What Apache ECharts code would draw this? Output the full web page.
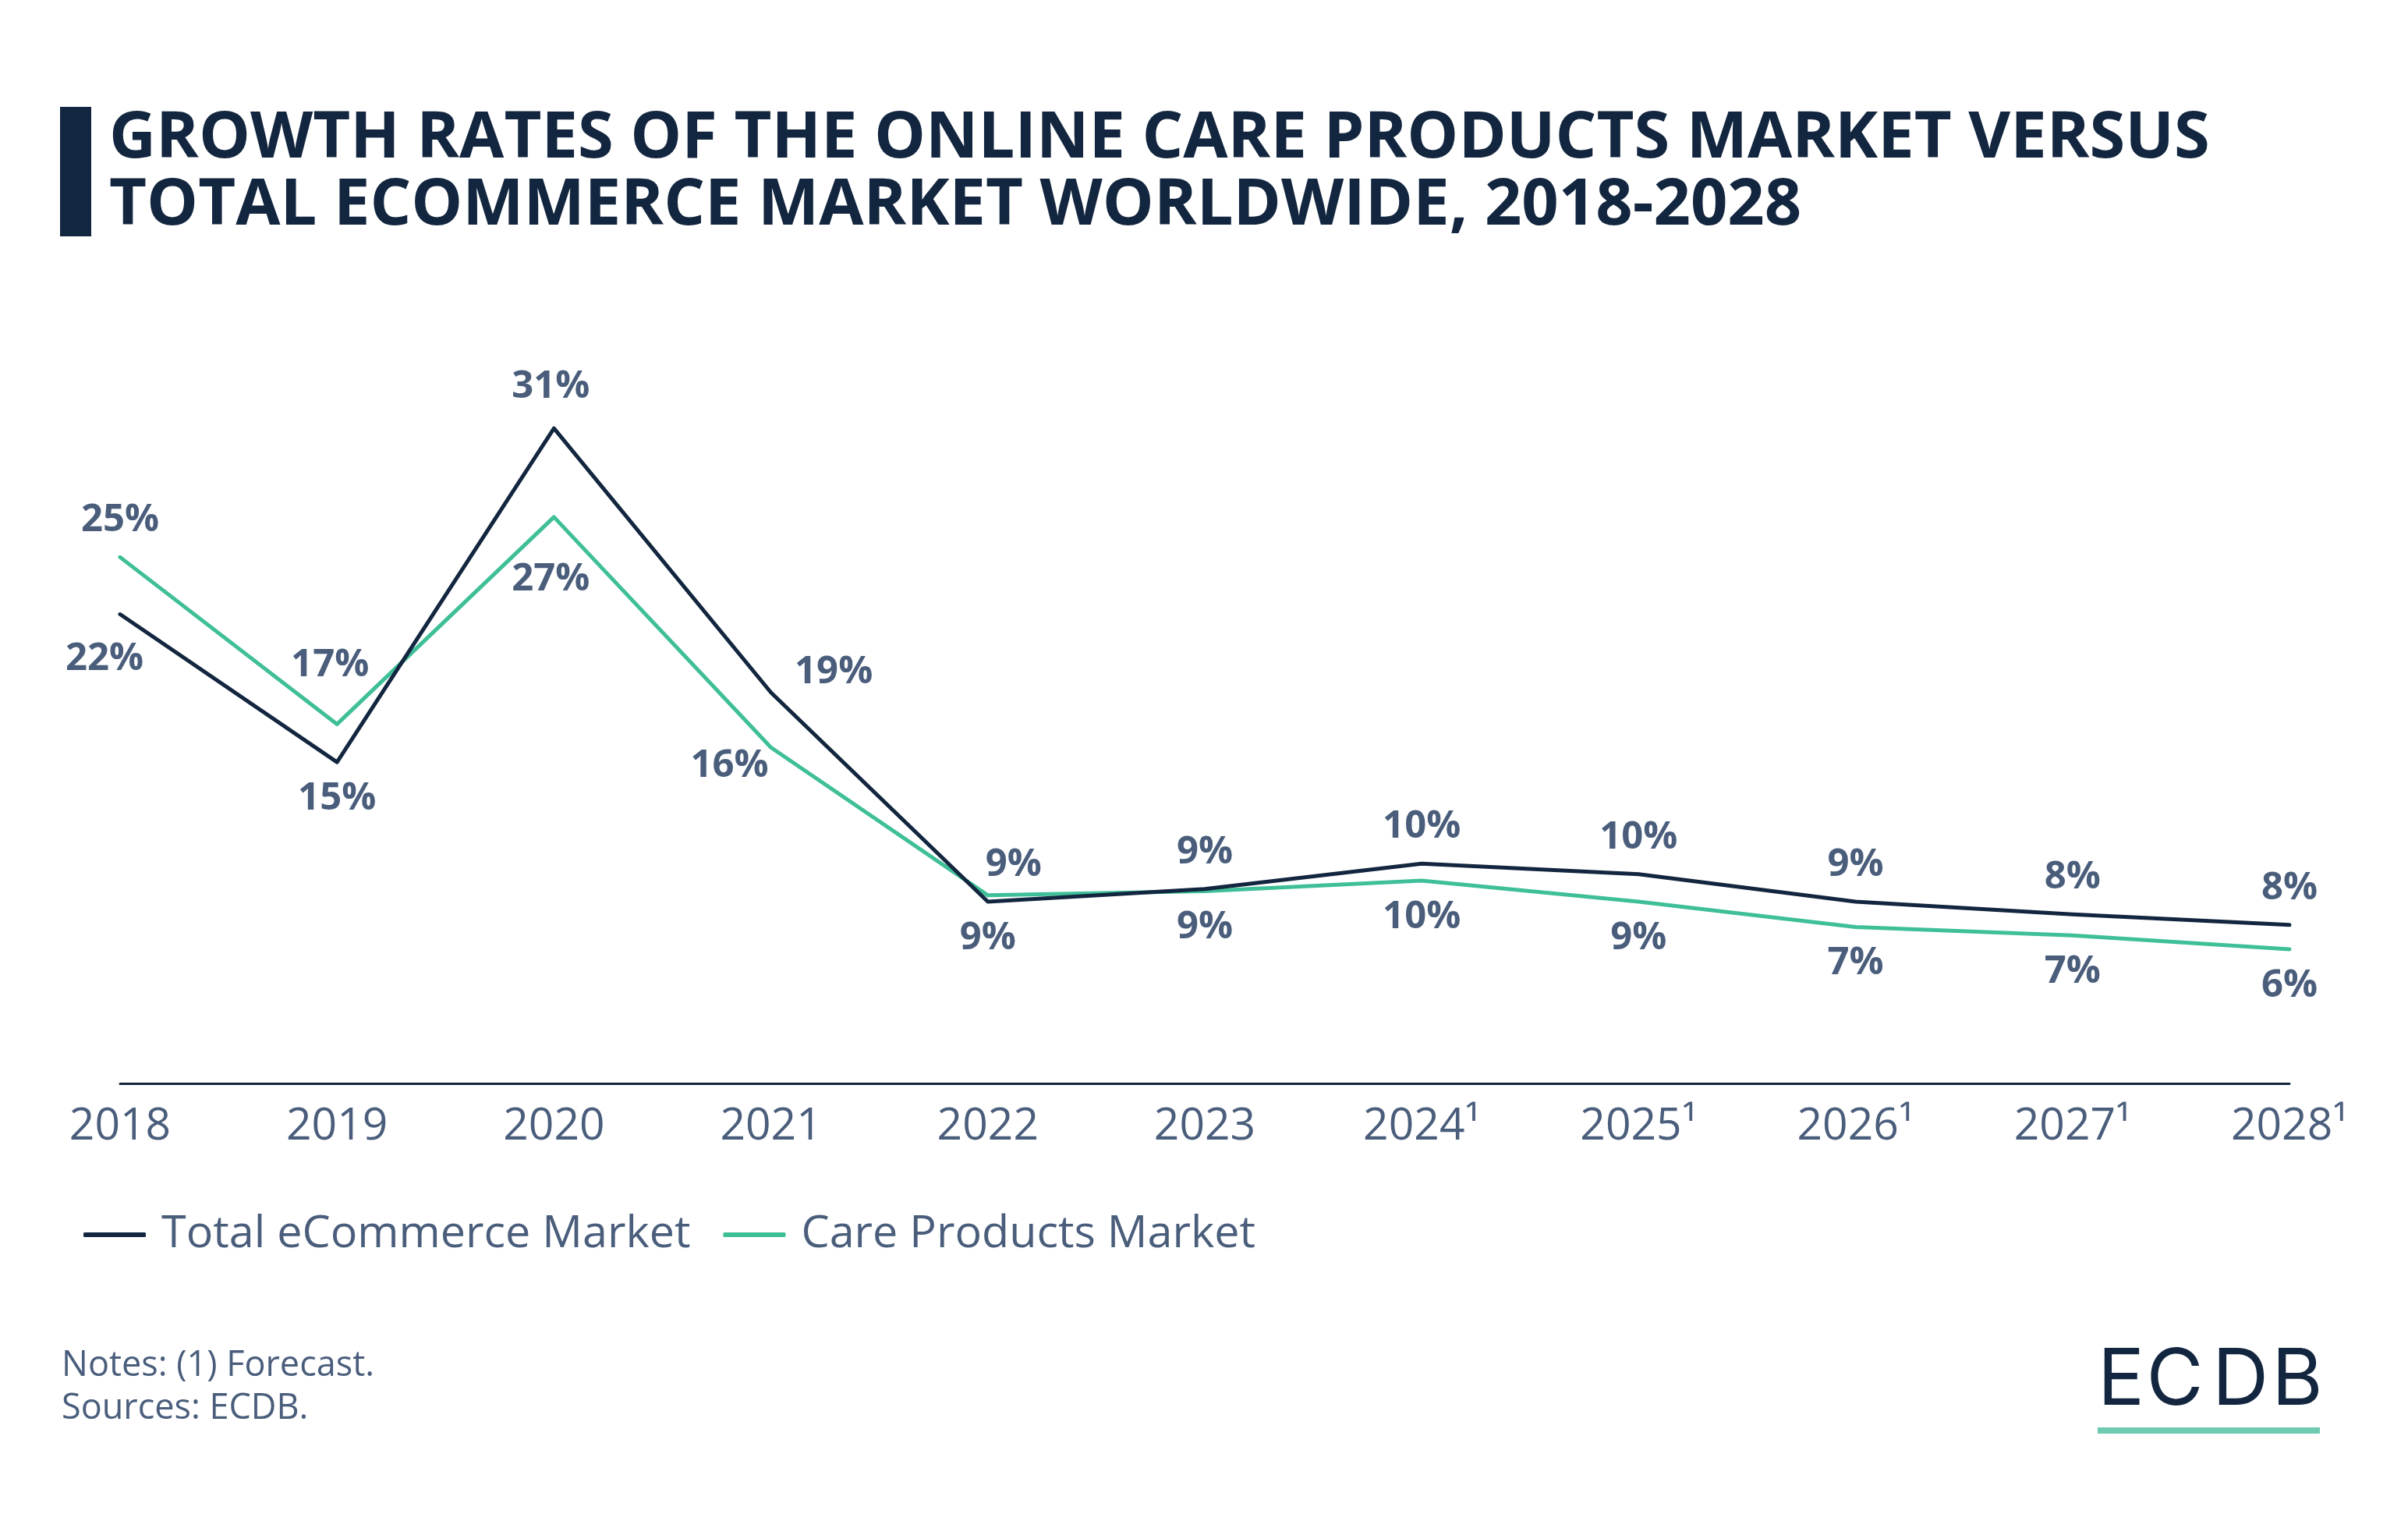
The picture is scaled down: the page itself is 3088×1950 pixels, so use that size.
<!DOCTYPE html>
<html>
<head>
<meta charset="utf-8">
<script src="https://cdn.jsdelivr.net/npm/echarts@6/dist/echarts.min.js"></script>
<style>
html,body{margin:0;padding:0;background:#fff;}
#chart{width:3088px;height:1950px;}
</style>
</head>
<body>
<div id="chart"></div>
<script>
// ---- data ----
const categories = ['2018','2019','2020','2021','2022','2023','2024¹','2025¹','2026¹','2027¹','2028¹'];
const totalEcommerce = [22.2, 15.2, 31.0, 18.5, 8.6, 9.2, 10.4, 9.9, 8.6, 8.0, 7.5];
const careProducts   = [24.9, 17.0, 26.8, 15.9, 8.9, 9.1, 9.6, 8.6, 7.4, 7.0, 6.35];
const seriesNames = ['Total eCommerce Market', 'Care Products Market'];
const titleLines = ['GROWTH RATES OF THE ONLINE CARE PRODUCTS MARKET VERSUS', 'TOTAL ECOMMERCE MARKET WORLDWIDE, 2018-2028'];
const notes = ['Notes: (1) Forecast.', 'Sources: ECDB.'];

// ---- label placement (style only) ----
const totalLabelPos = ['bottom','bottom','top','right','bottom','top','top','top','top','top','top'];
const totalLabelOff = [[-20,11],[0,0],[-4,-6],[8,-26],[0,0],[0,0],[0,0],[0,0],[0,0],[0,0],[0,0]];
const careLabelPos  = ['top','top','bottom','bottom','top','bottom','bottom','bottom','bottom','bottom','bottom'];
const careLabelOff  = [[0,0],[-9,-28],[-4,33],[-53,-23],[33,8],[0,0],[0,0],[0,0],[0,0],[0,0],[0,0]];

const NAVY = '#13263f';
const GREEN = '#3fbf98';
const SLATE = '#4a5e7c';
const FONT = 'Open Sans';

function buildData(values, pos, off) {
  return values.map((v, i) => ({
    value: v,
    label: { position: pos[i], offset: off[i] }
  }));
}

const labelStyle = {
  show: true,
  fontFamily: FONT,
  fontWeight: 'bold',
  fontSize: 49,
  color: SLATE,
  distance: 22,
  formatter: p => Math.round(p.value) + '%'
};

const chart = echarts.init(document.getElementById('chart'));
chart.setOption({
  animation: false,
  backgroundColor: '#ffffff',
  grid: { left: 154, right: 152, top: 522, bottom: 561 },
  xAxis: {
    type: 'category',
    data: categories,
    boundaryGap: false,
    axisLine: { show: true, lineStyle: { color: NAVY, width: 3 } },
    axisTick: { show: false },
    axisLabel: { interval: 0, fontFamily: FONT, fontSize: 57, color: SLATE, margin: 27 },
    splitLine: { show: false }
  },
  yAxis: {
    type: 'value', min: 0, max: 32,
    show: false,
    splitLine: { show: false }
  },
  legend: {
    left: 102, top: 1549,
    icon: 'roundRect',
    itemWidth: 80, itemHeight: 6,
    itemGap: 42,
    textStyle: { fontFamily: FONT, fontSize: 57.5, color: SLATE, padding: [0,0,0,15] },
    data: seriesNames
  },
  series: [
    {
      name: seriesNames[0], type: 'line',
      data: buildData(totalEcommerce, totalLabelPos, totalLabelOff),
      symbol: 'circle', symbolSize: 1, showSymbol: true,
      itemStyle: { color: NAVY },
      lineStyle: { color: NAVY, width: 5, cap: 'round', join: 'round' },
      label: labelStyle, z: 3,
      emphasis: { disabled: true }
    },
    {
      name: seriesNames[1], type: 'line',
      data: buildData(careProducts, careLabelPos, careLabelOff),
      symbol: 'circle', symbolSize: 1, showSymbol: true,
      itemStyle: { color: GREEN },
      lineStyle: { color: GREEN, width: 5, cap: 'round', join: 'round' },
      label: labelStyle, z: 2,
      emphasis: { disabled: true }
    }
  ],
  graphic: [
    { type: 'rect', left: 77, top: 137, shape: { width: 40, height: 166 }, style: { fill: NAVY } },
    { type: 'text', x: 140, y: 178, style: { text: titleLines[0], font: 'bold 83px "Open Sans"', fill: NAVY, verticalAlign: 'middle' } },
    { type: 'text', x: 140, y: 264, style: { text: titleLines[1], font: 'bold 83px "Open Sans"', fill: NAVY, verticalAlign: 'middle' } },
    { type: 'text', x: 79, y: 1751, style: { text: notes[0], font: '45px "Open Sans"', fill: SLATE, verticalAlign: 'middle' } },
    { type: 'text', x: 79, y: 1806, style: { text: notes[1], font: '45px "Open Sans"', fill: SLATE, verticalAlign: 'middle' } },
    { type: 'text', x: 2720, y: 1771, style: { text: 'E', font: '100px Inter', fill: NAVY, align: 'center', verticalAlign: 'middle' } },
    { type: 'text', x: 2789, y: 1771, style: { text: 'C', font: '100px Inter', fill: NAVY, align: 'center', verticalAlign: 'middle' } },
    { type: 'text', x: 2873, y: 1771, style: { text: 'D', font: '100px Inter', fill: NAVY, align: 'center', verticalAlign: 'middle' } },
    { type: 'text', x: 2946, y: 1771, style: { text: 'B', font: '100px Inter', fill: NAVY, align: 'center', verticalAlign: 'middle' } },
    { type: 'rect', left: 2690, top: 1830, shape: { width: 285, height: 8 }, style: { fill: '#6fcab2' } }
  ]
});
</script>
</body>
</html>
